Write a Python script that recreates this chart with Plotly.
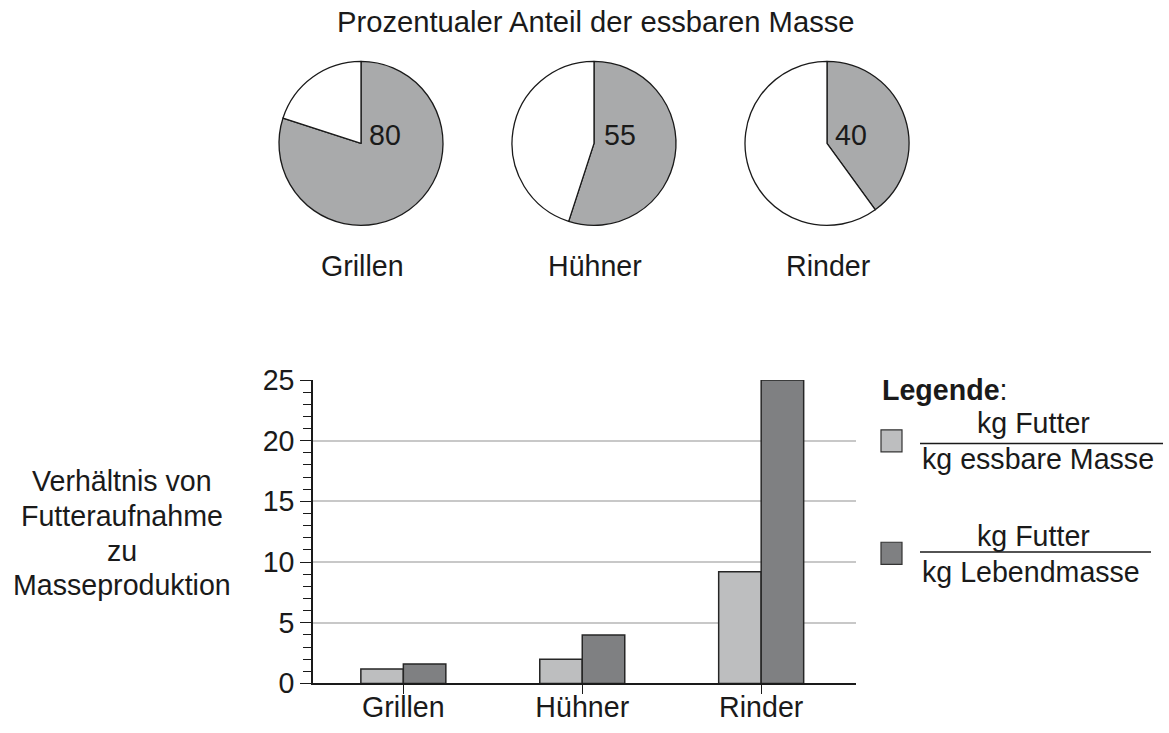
import plotly.graph_objects as go

W, H = 1169, 733

# ---- data ----
categories = ["Grillen", "Hühner", "Rinder"]
edible_pct = [80, 55, 40]
ratio_edible = [1.2, 2.0, 9.2]     # kg Futter / kg essbare Masse
ratio_live = [1.6, 4.0, 25]        # kg Futter / kg Lebendmasse
y_ticks = [0, 5, 10, 15, 20, 25]

title_text = "Prozentualer Anteil der essbaren Masse"
ytitle_lines = ["Verhältnis von", "Futteraufnahme", "zu", "Masseproduktion"]

FONT = "Liberation Sans, Arial, sans-serif"
FS = 28.6
TXT = "#1a1a1a"
PIE_GRAY = "#a9aaab"
LIGHT = "#bdbebf"
DARK = "#7f8082"

# the page is drawn about 700 px high, offset ~17.5 px, in the photo
OFF_Y, DRAW_H = 17.5, 700.0


def px(x):
    return x / W


def py(y):
    return 1 - (y - OFF_Y) / DRAW_H


fig = go.Figure()

# ---- pies ----
pie_cx = [361, 594, 827]
pie_cy = 144.7
pie_r = 82
for i, (cat, pct) in enumerate(zip(categories, edible_pct)):
    cx = pie_cx[i]
    fig.add_trace(go.Pie(
        values=[pct, 100 - pct],
        labels=["essbar", "nicht essbar"],
        sort=False,
        direction="clockwise",
        rotation=0,
        textinfo="none",
        hoverinfo="label+value",
        showlegend=False,
        marker=dict(colors=[PIE_GRAY, "white"], line=dict(color="#1a1a1a", width=1.3)),
        domain=dict(x=[px(cx - pie_r), px(cx + pie_r)],
                    y=[py(pie_cy + pie_r), py(pie_cy - pie_r)]),
    ))

# ---- bars ----
fig.add_trace(go.Bar(
    x=categories, y=ratio_edible, name="kg Futter / kg essbare Masse",
    marker=dict(color=LIGHT, line=dict(color="#262626", width=1.5)),
    showlegend=False,
))
fig.add_trace(go.Bar(
    x=categories, y=ratio_live, name="kg Futter / kg Lebendmasse",
    marker=dict(color=DARK, line=dict(color="#262626", width=1.5)),
    showlegend=False,
))


def label(text, x, y, xanchor="center", size=FS):
    return dict(text=text, x=px(x), y=py(y), xref="paper", yref="paper",
                showarrow=False, font=dict(size=size, color=TXT, family=FONT),
                xanchor=xanchor, yanchor="middle")


annotations = [label(title_text, 596, 23, size=29.2)]
num_x = [385, 620, 851]
for i, pct in enumerate(edible_pct):
    annotations.append(label(str(pct), num_x[i], 136))
for i, cat in enumerate(categories):
    annotations.append(label(cat, pie_cx[i] + 1, 267))
ytitle_y = [482, 516.7, 551.3, 586]
for line, yy in zip(ytitle_lines, ytitle_y):
    annotations.append(label(line, 122, yy))
annotations.append(label("<b>Legende</b>:", 880, 391, xanchor="left"))

leg_items = [
    ("kg Futter", "kg essbare Masse", 424, 444.3, 460, 1163, LIGHT, 441.7),
    ("kg Futter", "kg Lebendmasse", 536.7, 552.7, 573, 1151, DARK, 554),
]
shapes = []
for num, den, ynum, yline, yden, xend, col, ysw in leg_items:
    annotations.append(label(num, 1033, ynum))
    annotations.append(label(den, 920, yden, xanchor="left"))
    shapes.append(dict(type="line", xref="paper", yref="paper",
                       x0=px(920), x1=px(xend), y0=py(yline), y1=py(yline),
                       line=dict(color="#1a1a1a", width=1.5)))
    shapes.append(dict(type="rect", xref="paper", yref="paper",
                       x0=px(881), x1=px(902), y0=py(ysw + 11), y1=py(ysw - 11),
                       fillcolor=col, line=dict(color="#333333", width=1.2)))

fig.update_layout(
    width=W, height=H,
    margin=dict(l=0, r=0, t=0, b=0),
    paper_bgcolor="white", plot_bgcolor="white",
    font=dict(family=FONT, size=FS, color=TXT),
    barmode="group", bargap=0.525, bargroupgap=0,
    annotations=annotations,
    shapes=shapes,
    showlegend=False,
    xaxis=dict(domain=[px(313), px(856)], range=[-0.505, 2.53],
               showline=True, linecolor="#1a1a1a", linewidth=1.5,
               ticks="outside", ticklen=9, tickcolor="#1a1a1a", tickwidth=1.3,
               ticklabelstandoff=-12,
               showgrid=False, tickfont=dict(size=FS, color=TXT, family=FONT)),
    yaxis=dict(domain=[py(684), py(381)], range=[0, 25],
               tickvals=y_ticks, showline=True, linecolor="#1a1a1a", linewidth=1.5,
               ticks="outside", ticklen=11, tickcolor="#1a1a1a", tickwidth=1.3,
               showgrid=True, gridcolor="#c8c8c8", gridwidth=1.5, zeroline=False,
               minor=dict(dtick=1, ticks="outside", ticklen=8, tickcolor="#1a1a1a",
                          tickwidth=1.2, showgrid=False),
               tickfont=dict(size=FS, color=TXT, family=FONT)),
)

fig.write_html(
    "out.html",
    config={"displayModeBar": False},
    post_script="document.body.style.margin='0';document.body.style.overflow='hidden';",
)
